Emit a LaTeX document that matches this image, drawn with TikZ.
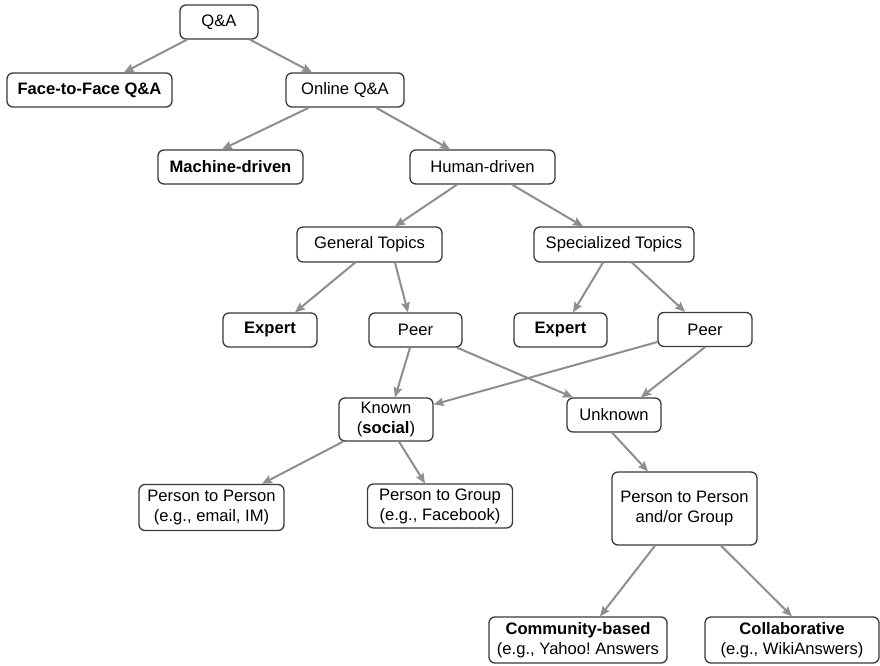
\documentclass[tikz,border=0pt]{standalone}
\usepackage{fontspec}
\setmainfont{Liberation Sans}
\usetikzlibrary{arrows.meta}
\definecolor{edgegray}{HTML}{8E8E8E}
\definecolor{boxline}{HTML}{3A3A3A}
\frenchspacing
\begin{document}
\begin{tikzpicture}[x=1pt,y=-1pt,
  box/.style={draw=boxline, line width=1.3pt, rounded corners=6pt, inner sep=0pt,
    align=center, font=\fontsize{16.6}{20}\selectfont},
  conn/.style={draw=edgegray, line width=2pt, -{Stealth[length=10pt,width=8.5pt,inset=1.5pt]}}]
\useasboundingbox (0,0) rectangle (880,666);
\fill[white] (0,0) rectangle (880,666);
% nodes
\node[box, minimum width=78pt, minimum height=34pt] (qa) at (219,22) {Q\&A};
\node[box, minimum width=165pt, minimum height=34pt] (f2f) at (89.5,90) {\textbf{Face-to-Face Q\&A}};
\node[box, minimum width=118pt, minimum height=34pt] (online) at (345,90) {Online Q\&A};
\node[box, minimum width=145pt, minimum height=34pt] (machine) at (230.5,167) {\textbf{Machine-driven}};
\node[box, minimum width=145pt, minimum height=34pt] (human) at (482.5,167) {Human-driven};
\node[box, minimum width=145pt, minimum height=35pt] (general) at (369.5,244.5) {General Topics};
\node[box, minimum width=160pt, minimum height=35pt] (special) at (614,244.5) {Specialized Topics};
\node[box, minimum width=94pt, minimum height=34pt] (expL) at (270,330) {\textbf{Expert}};
\node[box, minimum width=93pt, minimum height=34pt] (peerL) at (415.5,330) {Peer};
\node[box, minimum width=93pt, minimum height=34pt] (expR) at (560.5,330) {\textbf{Expert}};
\node[box, minimum width=94pt, minimum height=34pt] (peerR) at (705,329.5) {Peer};
\node[box, minimum width=94pt, minimum height=43pt] (known) at (386,419.5) {Known\\(\textbf{social})};
\node[box, minimum width=94pt, minimum height=34pt] (unknown) at (614,415) {Unknown};
\node[box, minimum width=145pt, minimum height=46pt] (p2p) at (211.5,507.5) {Person to Person\\(e.g., email, IM)};
\node[box, minimum width=145pt, minimum height=44pt] (p2g) at (440,506) {Person to Group\\(e.g., Facebook)};
\node[box, minimum width=145pt, minimum height=73pt] (ppg) at (684.5,508.5) {Person to Person\\and/or Group};
\node[box, minimum width=178pt, minimum height=46pt] (comm) at (578,640) {\textbf{Community-based}\\(e.g., Yahoo! Answers};
\node[box, minimum width=174pt, minimum height=46pt] (collab) at (792,640) {\textbf{Collaborative}\\(e.g., WikiAnswers)};
% connectors
\draw[conn] ([xshift=-32pt]qa.south) -- ([xshift=34.5pt]f2f.north);
\draw[conn] ([xshift=31pt]qa.south) -- ([xshift=-33pt]online.north);
\draw[conn] ([xshift=-36pt]online.south) -- ([xshift=-8.5pt]machine.north);
\draw[conn] ([xshift=31pt]online.south) -- ([xshift=-32.5pt]human.north);
\draw[conn] ([xshift=-25.5pt]human.south) -- ([xshift=25.5pt]general.north);
\draw[conn] ([xshift=29.5pt]human.south) -- ([xshift=-31pt]special.north);
\draw[conn] ([xshift=-14.5pt]general.south) -- ([xshift=25pt]expL.north);
\draw[conn] ([xshift=25.5pt]general.south) -- ([xshift=-7.5pt]peerL.north);
\draw[conn] ([xshift=-11pt]special.south) -- ([xshift=12.5pt]expR.north);
\draw[conn] ([xshift=18pt]special.south) -- ([xshift=-20pt]peerR.north);
\draw[conn] ([xshift=-5.5pt]peerL.south) -- ([xshift=9pt]known.north);
\draw[conn] ([xshift=41.5pt]peerL.south) -- ([xshift=-41pt]unknown.north);
\draw[conn] ([yshift=-12.5pt]peerR.west) -- ([yshift=15pt]known.east);
\draw[conn] (peerR.south) -- ([xshift=27pt]unknown.north);
\draw[conn] ([xshift=-43pt]known.south) -- ([xshift=50.5pt]p2p.north);
\draw[conn] ([xshift=13pt]known.south) -- ([xshift=-15pt]p2g.north);
\draw[conn] ([xshift=-2pt]unknown.south) -- ([xshift=-36.5pt]ppg.north);
\draw[conn] ([xshift=-29.5pt]ppg.south) -- ([xshift=22pt]comm.north);
\draw[conn] ([xshift=36.5pt]ppg.south) -- (collab.north);
\end{tikzpicture}
\end{document}
